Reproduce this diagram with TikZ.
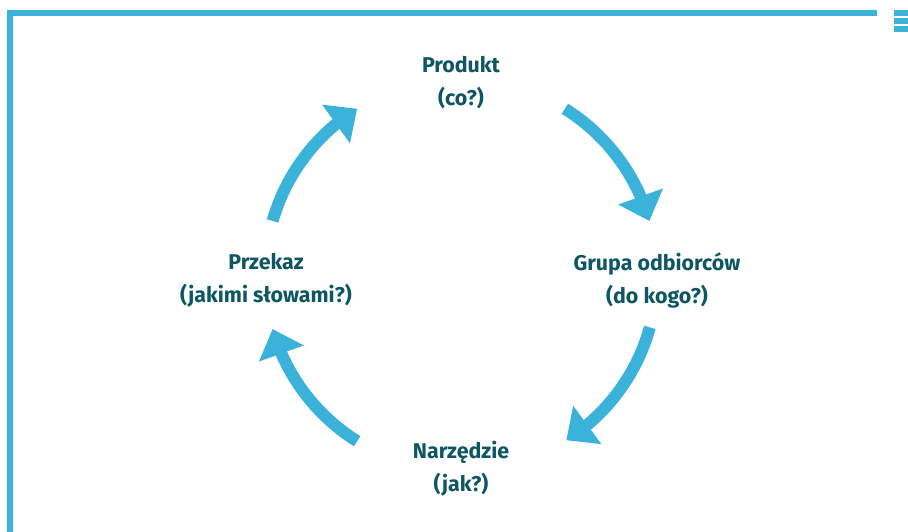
\documentclass[tikz,border=0pt]{standalone}
\usepackage{fontspec}
\setmainfont{Fira Sans}
\usetikzlibrary{arrows.meta,bending}
\definecolor{cyc}{HTML}{3BB2D9}
\definecolor{txt}{HTML}{0D5663}
\begin{document}
\begin{tikzpicture}[x=1pt,y=1pt,
  lbl/.style={font=\bfseries\fontsize{21.4}{33}\selectfont, text=txt, align=center, inner sep=0pt},
  cycarrow/.style={draw=cyc, line width=12pt, -{Triangle[length=26pt,width=46pt,flex]}},
  bar/.style={fill=cyc, draw=none}]
\useasboundingbox (0,0) rectangle (908,532);
% frame
\fill[bar] (7,516) rectangle (877,522);
\fill[bar] (7,0) rectangle (13,522);
% menu icon
\fill[bar] (894,516) rectangle (908,522);
\fill[bar] (894,508) rectangle (908,514);
\fill[bar] (894,499.5) rectangle (908,505.5);
% labels
\node[lbl] (produkt) at (461,449) {Produkt\\(co?)};
\node[lbl] (grupa) at (657,252) {Grupa odbiorców\\(do kogo?)};
\node[lbl] (przekaz) at (266,252) {Przekaz\\(jakimi słowami?)};
\node[lbl] (narzedzie) at (461,63) {Narzędzie\\(jak?)};
% cycle arrows
\coordinate (c) at (461,257);
\draw[cycarrow] ([shift={(58:196pt)}]c) arc[start angle=58, end angle=16, radius=196pt];
\draw[cycarrow] ([shift={(-15.5:196pt)}]c) arc[start angle=-15.5, end angle=-57.5, radius=196pt];
\draw[cycarrow] ([shift={(-122:196pt)}]c) arc[start angle=-122, end angle=-164, radius=196pt];
\draw[cycarrow] ([shift={(164:196pt)}]c) arc[start angle=164, end angle=122, radius=196pt];
\end{tikzpicture}
\end{document}
